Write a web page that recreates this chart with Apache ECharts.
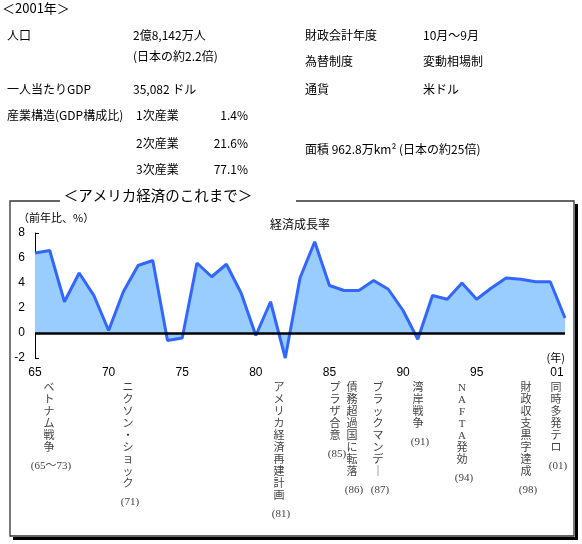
<!DOCTYPE html>
<html><head><meta charset="utf-8">
<script src="https://cdn.jsdelivr.net/npm/echarts@6/dist/echarts.min.js"></script>
<style>html,body{margin:0;padding:0;background:#fff}#c{width:582px;height:544px}</style>
</head><body><div id="c"></div>
<script>
// ---- data ----
var years = ['1965','1966','1967','1968','1969','1970','1971','1972','1973','1974','1975','1976','1977','1978','1979','1980','1981','1982','1983','1984','1985','1986','1987','1988','1989','1990','1991','1992','1993','1994','1995','1996','1997','1998','1999','2000','2001'];
var growth = [6.4,6.6,2.5,4.8,3.0,0.2,3.3,5.4,5.8,-0.6,-0.4,5.6,4.5,5.5,3.2,-0.2,2.5,-2.0,4.4,7.3,3.8,3.4,3.4,4.2,3.5,1.8,-0.5,3.0,2.7,4.0,2.7,3.6,4.4,4.3,4.1,4.1,1.2];
var xTickYears = ['1965','1970','1975','1980','1985','1990','1995','2001'];
var xTickLabels = ['65','70','75','80','85','90','95','01'];
var yTicks = [-2,0,2,4,6,8];
var events = ['ベトナム戦争','ニクソン・ショック','アメリカ経済再建計画','プラザ合意','債務超過国に転落','ブラックマンデー','湾岸戦争','NAFTA発効','財政収支黒字達成','同時多発テロ'];
var eventYears = ['(65～73)','(71)','(81)','(85)','(86)','(87)','(91)','(94)','(98)','(01)'];
var infoLeft = [['人口','2億8,142万人'],['','(日本の約2.2倍)'],['一人当たりGDP','35,082 ドル'],['産業構造(GDP構成比)','1次産業'],['','2次産業'],['','3次産業']];
var industryShares = ['1.4%','21.6%','77.1%'];
var infoRight = [['財政会計年度','10月～9月'],['為替制度','変動相場制'],['通貨','米ドル']];
var areaText = '面積 962.8万km² (日本の約25倍)';

// ---- layout (positions only) ----
var JP = '"Noto Sans CJK JP", "Liberation Sans", sans-serif';
var SERIF = '"Liberation Serif", "DejaVu Serif", "Noto Sans CJK JP", serif';
var evX = [49,128,279,335,352,378,418,462,526,556];
var evTop = 382;
var evLH = 12;
var leftRowsY = [35,56,89,115,143,169];
var rightRowsY = [35,61,89];

var g = [];
function txt(x,y,s,opt){
  opt = opt||{};
  g.push({type:'text', x:x, y:y, z:opt.z||10, style:{text:s, font:opt.font||('12px '+JP), fill:opt.fill||'#000', align:opt.align||'left', verticalAlign:opt.va||'middle', lineHeight:opt.lh}});
}
txt(2,8,'＜2001年＞',{font:'13px '+JP});
infoLeft.forEach(function(r,i){
  if(r[0]) txt(7,leftRowsY[i],r[0]);
  if(r[1]) txt(i>=3?136:133,leftRowsY[i],r[1]);
});
industryShares.forEach(function(s,i){ txt(248,leftRowsY[3+i],s,{align:'right'}); });
infoRight.forEach(function(r,i){ txt(305,rightRowsY[i],r[0]); txt(423,rightRowsY[i],r[1]); });
txt(305,149,areaText);

// frame
g.push({type:'rect', z:0, shape:{x:575,y:204,width:3,height:335}, style:{fill:'#000'}});
g.push({type:'rect', z:0, shape:{x:13,y:537,width:565,height:3}, style:{fill:'#000'}});
g.push({type:'polyline', z:1, shape:{points:[[60,201],[10,201],[10,536],[574,536],[574,201],[296,201]]}, style:{stroke:'#333',lineWidth:1.3,fill:null}});
txt(158,195,'＜アメリカ経済のこれまで＞',{font:'14.5px '+JP,align:'center'});
txt(18,218,'（前年比、%）',{font:'11px '+JP});
txt(300,224,'経済成長率',{font:'12px '+JP,align:'center'});
txt(565,358,'(年)',{font:'11px '+JP,align:'right'});

events.forEach(function(e,i){
  var chars = Array.from(e);
  var s = chars.map(function(c){return c==='ー'?'｜':c;}).join('\n');
  txt(evX[i],evTop,s,{font:'11px '+SERIF,fill:'#444',align:'center',va:'top',lh:evLH});
  txt(evX[i]+2,evTop+chars.length*evLH+12,eventYears[i],{font:'11px '+SERIF,fill:'#444',align:'center',va:'middle'});
});

var chart = echarts.init(document.getElementById('c'),null,{renderer:'canvas'});
chart.setOption({
  animation:false,
  backgroundColor:'#fff',
  grid:{left:35,right:17,top:233,bottom:186,containLabel:false},
  xAxis:{type:'category',data:years,boundaryGap:false,
    axisLine:{show:false,onZero:false},axisTick:{show:false},splitLine:{show:false},
    axisLabel:{margin:9,fontSize:12,fontFamily:'Liberation Sans',color:'#000',
      interval:function(i,v){return xTickYears.indexOf(v)>=0;},
      formatter:function(v){var k=xTickYears.indexOf(v);return k===xTickLabels.length-1?'{l|'+xTickLabels[k]+'}':xTickLabels[k];},
      rich:{l:{padding:[0,16,0,0],fontSize:12,fontFamily:'Liberation Sans',color:'#000'}}}},
  yAxis:{type:'value',min:yTicks[0],max:yTicks[yTicks.length-1],interval:2,
    axisLine:{show:true,lineStyle:{color:'#000',width:1}},
    axisTick:{show:true,inside:true,length:4,lineStyle:{color:'#000'}},
    splitLine:{show:false},
    axisLabel:{margin:10,fontSize:12,fontFamily:'Liberation Sans',color:'#000'}},
  series:[{type:'line',data:growth,symbol:'none',z:3,
    lineStyle:{color:'#3366FF',width:3},
    areaStyle:{color:'#99CCFF',opacity:1},
    markLine:{silent:true,symbol:'none',label:{show:false},
      lineStyle:{color:'#000',width:2.5,type:'solid'},
      data:[{yAxis:0}]}}],
  graphic:g
});
</script></body></html>
